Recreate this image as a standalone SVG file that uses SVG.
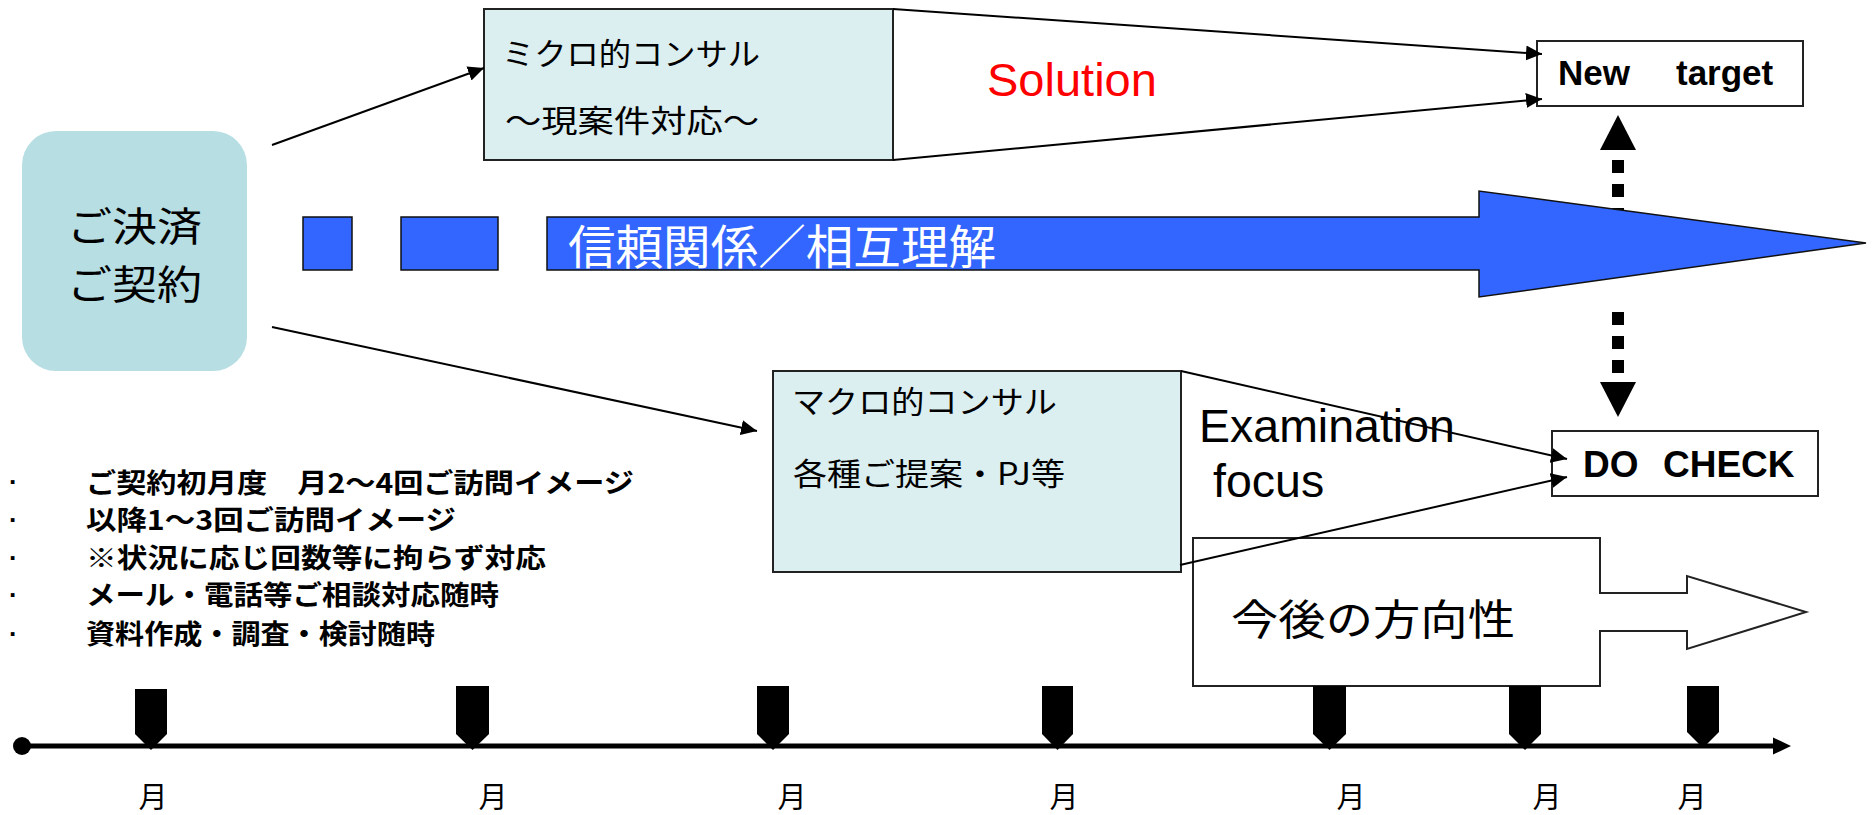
<svg xmlns="http://www.w3.org/2000/svg" width="1873" height="815" viewBox="0 0 1873 815">
<style>
.box{fill:#DBEEF0;stroke:#222;stroke-width:2}
.wbox{fill:#fff;stroke:#222;stroke-width:2}
.blue{fill:#3366FF;stroke:#111;stroke-width:1.5}
.conn{stroke:#000;stroke-width:2;fill:none;marker-end:url(#ah)}
.jp{font-family:"Noto Sans CJK JP","Noto Sans CJK SC",sans-serif;fill:#000}
.lat{font-family:"Liberation Sans",Arial,sans-serif;fill:#000}
.mk{fill:#000}
.mon{font-family:"Noto Sans CJK JP",sans-serif;font-size:29px;text-anchor:middle}
.list{font-family:"Noto Sans CJK JP",sans-serif;font-size:27px;font-weight:bold}
.dot{font-family:"Liberation Sans",Arial,sans-serif;font-size:26px;font-weight:bold}
</style>
<defs>
<marker id="ah" markerUnits="userSpaceOnUse" viewBox="0 0 16 16" markerWidth="16" markerHeight="16" refX="16" refY="8" orient="auto">
<path d="M0,0.5 L16,8 L0,15.5 z" fill="#000"/>
</marker>
</defs>

<g id="trust-arrow">
<line x1="1618" y1="160" x2="1618" y2="222" stroke="#000" stroke-width="12" stroke-dasharray="13 11"/>
<rect class="blue" x="303" y="217" width="49" height="53"/>
<rect class="blue" x="401" y="217" width="97" height="53"/>
<polygon class="blue" points="547,217 1479,217 1479,191 1866,243 1479,297 1479,270 547,270"/>
<text class="jp" x="568" y="264" font-size="47" fill="#fff" style="fill:#fff" textLength="428" lengthAdjust="spacingAndGlyphs">信頼関係／相互理解</text>
</g>

<g id="contract">
<rect x="22" y="131" width="225" height="240" rx="34" ry="34" fill="#B7DEE3"/>
<text class="jp" x="67" y="241" font-size="39.5" textLength="135" lengthAdjust="spacingAndGlyphs">ご決済</text>
<text class="jp" x="67" y="299" font-size="39.5" textLength="135" lengthAdjust="spacingAndGlyphs">ご契約</text>
</g>

<g id="micro">
<rect class="box" x="484" y="9" width="409" height="151"/>
<text class="jp" x="502" y="65" font-size="31" textLength="258" lengthAdjust="spacingAndGlyphs">ミクロ的コンサル</text>
<text class="jp" x="505" y="132" font-size="31" textLength="254" lengthAdjust="spacingAndGlyphs">～現案件対応～</text>
</g>

<g id="macro">
<rect class="box" x="773" y="371" width="408" height="201"/>
<text class="jp" x="792" y="413" font-size="31" textLength="265" lengthAdjust="spacingAndGlyphs">マクロ的コンサル</text>
<text class="jp" x="793" y="485" font-size="31" textLength="272" lengthAdjust="spacingAndGlyphs">各種ご提案・PJ等</text>
</g>

<g id="solution">
<text class="lat" x="987" y="96" font-size="47" style="fill:#FF0000">Solution</text>
</g>

<g id="new-target">
<rect class="wbox" x="1537" y="41" width="266" height="65"/>
<text class="lat" x="1558" y="85" font-size="35" font-weight="bold">New <tspan x="1676">target</tspan></text>
</g>

<g id="do-check">
<rect class="wbox" x="1552" y="431" width="266" height="65"/>
<text class="lat" x="1583" y="477" font-size="37" font-weight="bold">DO <tspan x="1663">CHECK</tspan></text>
</g>

<g id="examination">
<text class="lat" x="1199" y="442" font-size="46.5">Examination</text>
<text class="lat" x="1213" y="497" font-size="46.5">focus</text>
</g>

<g id="direction">
<polygon class="wbox" points="1193,538 1600,538 1600,593 1687,593 1687,576 1806,612 1687,649 1687,631 1600,631 1600,686 1193,686"/>
<text class="jp" x="1231" y="635" font-size="42" textLength="284" lengthAdjust="spacingAndGlyphs">今後の方向性</text>
</g>

<g id="notes">
<text class="dot" x="9" y="491">·</text>
<text class="dot" x="9" y="529">·</text>
<text class="dot" x="9" y="567">·</text>
<text class="dot" x="9" y="604">·</text>
<text class="dot" x="9" y="643">·</text>
<text class="list" x="86" y="493" textLength="548" lengthAdjust="spacingAndGlyphs">ご契約初月度　月2～4回ご訪問イメージ</text>
<text class="list" x="86" y="530" textLength="370" lengthAdjust="spacingAndGlyphs">以降1～3回ご訪問イメージ</text>
<text class="list" x="86" y="568" textLength="460" lengthAdjust="spacingAndGlyphs">※状況に応じ回数等に拘らず対応</text>
<text class="list" x="86" y="605" textLength="413" lengthAdjust="spacingAndGlyphs">メール・電話等ご相談対応随時</text>
<text class="list" x="86" y="644" textLength="349" lengthAdjust="spacingAndGlyphs">資料作成・調査・検討随時</text>
</g>

<g id="connectors">
<line class="conn" x1="272" y1="145" x2="484" y2="68"/>
<line class="conn" x1="272" y1="327" x2="757" y2="431"/>
<line class="conn" x1="893" y1="9" x2="1542" y2="54"/>
<line class="conn" x1="893" y1="160" x2="1542" y2="99"/>
<line class="conn" x1="1181" y1="371" x2="1567" y2="459"/>
<line class="conn" x1="1180" y1="565" x2="1567" y2="477"/>
<line x1="1618" y1="312" x2="1618" y2="378" stroke="#000" stroke-width="12" stroke-dasharray="13 11"/>
<polygon points="1618,115 1636,150 1600,150" fill="#000"/>
<polygon points="1618,417 1636,382 1600,382" fill="#000"/>
</g>

<g id="timeline">
<line x1="22" y1="746" x2="1776" y2="746" stroke="#000" stroke-width="5"/>
<circle cx="22" cy="746" r="9" fill="#000"/>
<polygon points="1773,737.5 1791,746 1773,754.5" fill="#000"/>
<polygon class="mk" points="135,689 167,689 167,734 151,750 135,734"/>
<polygon class="mk" points="456,686 489,686 489,734 472.5,750 456,734"/>
<polygon class="mk" points="757,686 789,686 789,734 773,750 757,734"/>
<polygon class="mk" points="1042,686 1073,686 1073,734 1057.5,750 1042,734"/>
<polygon class="mk" points="1313,686 1346,686 1346,734 1329.5,750 1313,734"/>
<polygon class="mk" points="1509,686 1541,686 1541,734 1525,750 1509,734"/>
<polygon class="mk" points="1687,686 1719,686 1719,732 1703,748 1687,732"/>
<text class="mon" x="153" y="808">月</text>
<text class="mon" x="493" y="808">月</text>
<text class="mon" x="792" y="808">月</text>
<text class="mon" x="1064" y="808">月</text>
<text class="mon" x="1351" y="808">月</text>
<text class="mon" x="1547" y="808">月</text>
<text class="mon" x="1692" y="808">月</text>
</g>
</svg>
